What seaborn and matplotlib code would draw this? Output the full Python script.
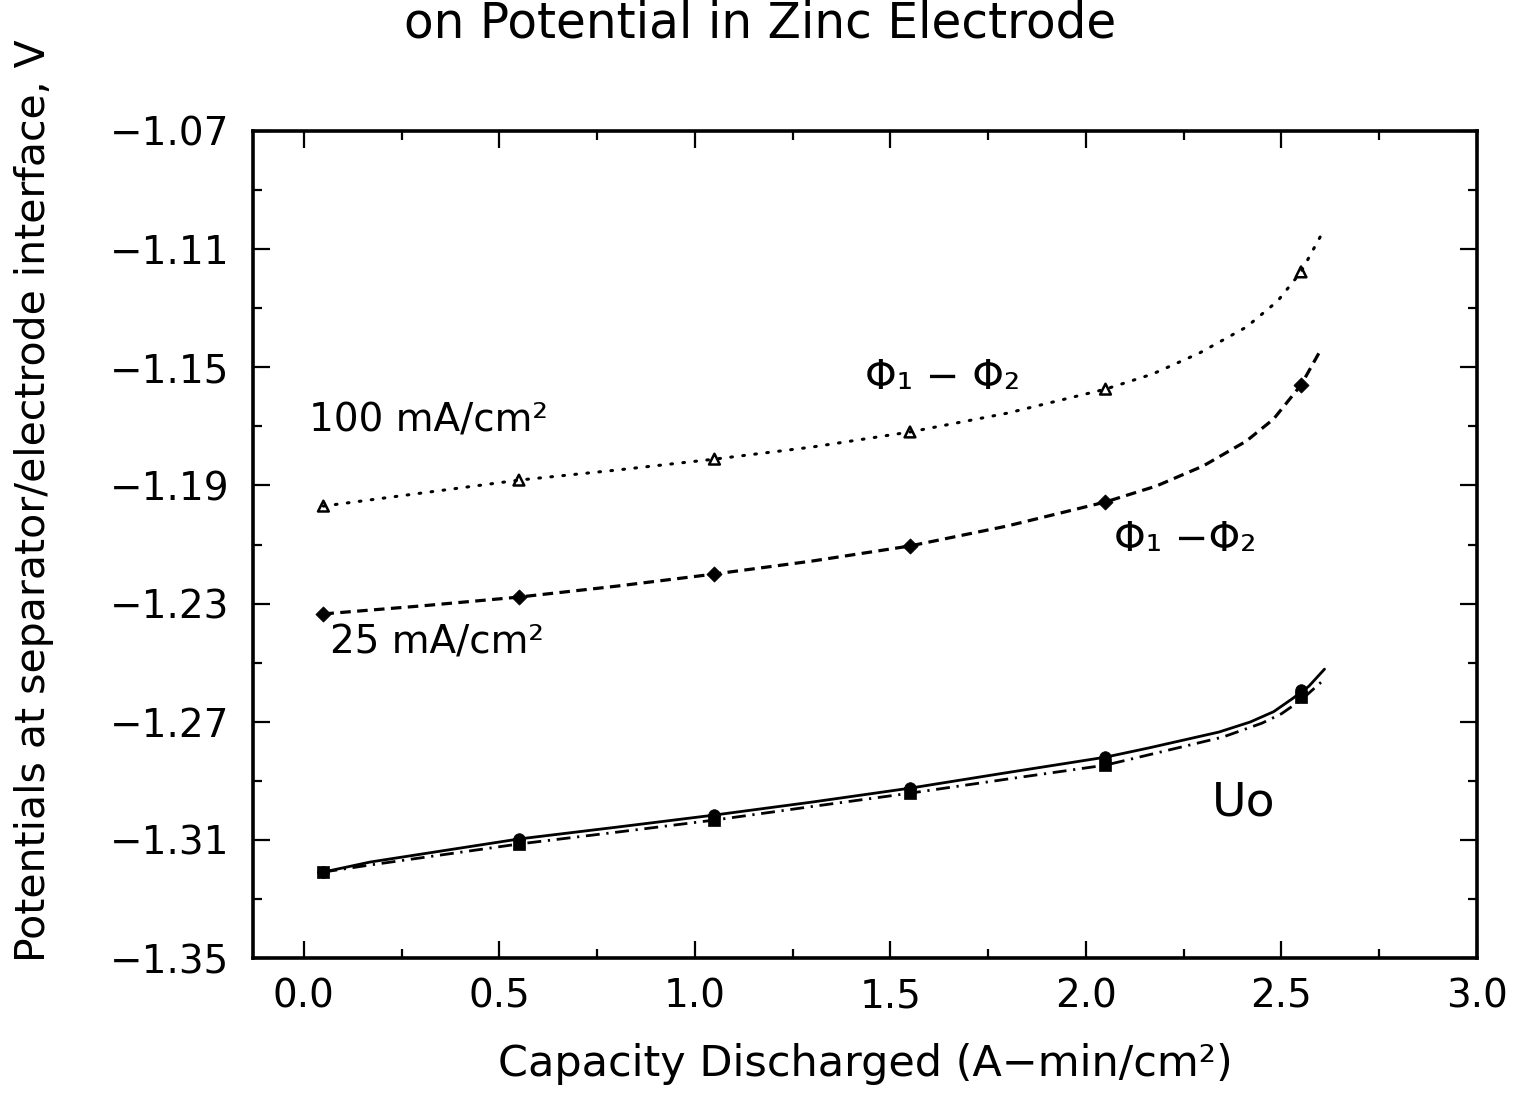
import matplotlib
matplotlib.use("Agg")
import matplotlib.pyplot as plt
import seaborn as sns
import pandas as pd
from matplotlib.markers import MarkerStyle
from matplotlib.ticker import FixedLocator

# ---------------- data ----------------
x_points = [0.05, 0.55, 1.05, 1.55, 2.05, 2.55]
phi_100_points = [-1.1970, -1.1882, -1.1811, -1.1719, -1.1574, -1.1177]
phi_25_points = [-1.2335, -1.2278, -1.2200, -1.2105, -1.1956, -1.1560]
u0_circle_points = [-1.3209, -1.3097, -1.3016, -1.2925, -1.2820, -1.2593]
u0_square_points = [-1.3209, -1.3114, -1.3033, -1.2942, -1.2847, -1.2616]

phi_100_curve_x = [0.05, 0.30, 0.55, 0.80, 1.05, 1.30, 1.55, 1.80, 2.05, 2.17, 2.29, 2.41, 2.49, 2.55, 2.60]
phi_100_curve_y = [-1.1970, -1.1926, -1.1882, -1.1848, -1.1811, -1.1770, -1.1719, -1.1655, -1.1574,
                   -1.1523, -1.1452, -1.1364, -1.1276, -1.1177, -1.1056]
phi_25_curve_x = [0.05, 0.30, 0.55, 0.80, 1.05, 1.30, 1.55, 1.80, 2.05, 2.18, 2.30, 2.41, 2.48, 2.55, 2.60]
phi_25_curve_y = [-1.2335, -1.2308, -1.2278, -1.2241, -1.2200, -1.2156, -1.2105, -1.2037, -1.1956,
                  -1.1902, -1.1834, -1.1750, -1.1675, -1.1560, -1.1442]
u0_solid_curve_x = [0.05, 0.17, 0.55, 0.80, 1.05, 1.30, 1.55, 1.80, 2.05, 2.16, 2.34, 2.42, 2.48, 2.53, 2.57, 2.61]
u0_solid_curve_y = [-1.3209, -1.3175, -1.3097, -1.3057, -1.3016, -1.2972, -1.2925, -1.2872, -1.2820,
                    -1.2789, -1.2735, -1.2701, -1.2666, -1.2620, -1.2580, -1.2522]
u0_dashdot_curve_x = [0.05, 0.17, 0.55, 0.80, 1.05, 1.30, 1.55, 1.80, 2.05, 2.18, 2.35, 2.45, 2.50, 2.55, 2.61]
u0_dashdot_curve_y = [-1.3209, -1.3185, -1.3114, -1.3074, -1.3033, -1.2987, -1.2942, -1.2894, -1.2847,
                      -1.2806, -1.2752, -1.2705, -1.2673, -1.2627, -1.2556]

x_tick_values = [0.0, 0.5, 1.0, 1.5, 2.0, 2.5, 3.0]
x_tick_labels = ["0.0", "0.5", "1.0", "1.5", "2.0", "2.5", "3.0"]
y_tick_values = [-1.35, -1.31, -1.27, -1.23, -1.19, -1.15, -1.11, -1.07]
y_tick_labels = ["\u22121.35", "\u22121.31", "\u22121.27", "\u22121.23", "\u22121.19", "\u22121.15",
                 "\u22121.11", "\u22121.07"]

title_text = "on Potential in Zinc Electrode"
x_label = "Capacity Discharged (A\u2212min/cm\u00b2)"
y_label = "Potentials at separator/electrode interface, V"

# ---------------- style ----------------
sns.set_theme(style="ticks")
plt.rcParams["font.family"] = ["DejaVu Sans"]
plt.rcParams["axes.unicode_minus"] = True

fig = plt.figure(figsize=(15.22, 10.95), dpi=100)
ax = fig.add_axes([253 / 1522, 1 - 958 / 1095, (1477 - 253) / 1522, (958 - 131) / 1095])
ax.set_facecolor("white")
fig.patch.set_facecolor("white")

K = "black"


def curve(xs, ys, lw, dashes=None):
    df = pd.DataFrame({"x": xs, "y": ys})
    n0 = len(ax.lines)
    sns.lineplot(data=df, x="x", y="y", sort=False, estimator=None, color=K, linewidth=lw, ax=ax)
    ln = ax.lines[n0]
    ln.set_solid_joinstyle("round")
    if dashes is not None:
        ln.set_dashes(dashes)
    return ln


ln = curve(phi_100_curve_x, phi_100_curve_y, 2.2, (0.55, 3.4))
ln.set_dash_capstyle("round")
curve(phi_25_curve_x, phi_25_curve_y, 2.3, (3.3, 2.0))
curve(u0_solid_curve_x, u0_solid_curve_y, 2.0)
curve(u0_dashdot_curve_x, u0_dashdot_curve_y, 2.0, (5.0, 2.4, 0.8, 2.4))

# markers
sns.scatterplot(x=x_points, y=phi_100_points, marker=MarkerStyle("^", fillstyle="none"),
                color=K, s=60, linewidth=1.8, ax=ax, zorder=5)
sns.scatterplot(x=x_points, y=phi_25_points, marker="D", color=K, edgecolor=K,
                s=60, linewidth=0.5, ax=ax, zorder=5)
sns.scatterplot(x=x_points, y=u0_circle_points, marker="o", color=K, edgecolor=K,
                s=70, linewidth=0.5, ax=ax, zorder=5)
sns.scatterplot(x=x_points, y=u0_square_points, marker="s", color=K, edgecolor=K,
                s=64, linewidth=0.5, ax=ax, zorder=6)

# axes limits and ticks
ax.set_xlim(-0.13, 3.0)
ax.set_ylim(-1.35, -1.07)
ax.xaxis.set_major_locator(FixedLocator(x_tick_values))
ax.set_xticklabels(x_tick_labels)
ax.xaxis.set_minor_locator(FixedLocator([0.25, 0.75, 1.25, 1.75, 2.25, 2.75]))
ax.yaxis.set_major_locator(FixedLocator(y_tick_values))
ax.set_yticklabels(y_tick_labels)
ax.yaxis.set_minor_locator(FixedLocator([-1.33, -1.29, -1.25, -1.21, -1.17, -1.13, -1.09]))

ax.tick_params(which="both", direction="in", top=True, right=True, color=K, width=1.6)
ax.tick_params(which="major", length=12, labelsize=28, labelcolor=K)
ax.tick_params(which="minor", length=6.5)
ax.tick_params(axis="x", which="major", pad=14)
ax.tick_params(axis="y", which="major", pad=17)
for sp in ax.spines.values():
    sp.set_linewidth(2.6)
    sp.set_color(K)
    sp.set_visible(True)

ax.set_xlabel(x_label, fontsize=31, color=K, labelpad=20)
ax.set_ylabel("")
fig.text(34 / 1522, 1 - 962 / 1095, y_label, rotation=90, ha="center", va="bottom",
         fontsize=29.5, color=K)

fig.text(760 / 1522, 1 - 37 / 1095, title_text, ha="center", va="baseline", fontsize=35, color=K)

# annotations
ax.text(0.013, -1.1716, "100 mA/cm\u00b2", fontsize=28, ha="left", va="baseline", color=K)
ax.text(0.066, -1.2468, "25 mA/cm\u00b2", fontsize=28, ha="left", va="baseline", color=K)
ax.text(1.634, -1.1536, "\u03a6\u2081 \u2212 \u03a6\u2082", fontsize=29, ha="center", va="center", color=K)
ax.text(2.253, -1.2085, "\u03a6\u2081 \u2212\u03a6\u2082", fontsize=29, ha="center", va="center", color=K)
ax.text(2.322, -1.3016, "Uo", fontsize=34, ha="left", va="baseline", color=K)

fig.savefig("out.png", dpi=100, facecolor="white")
